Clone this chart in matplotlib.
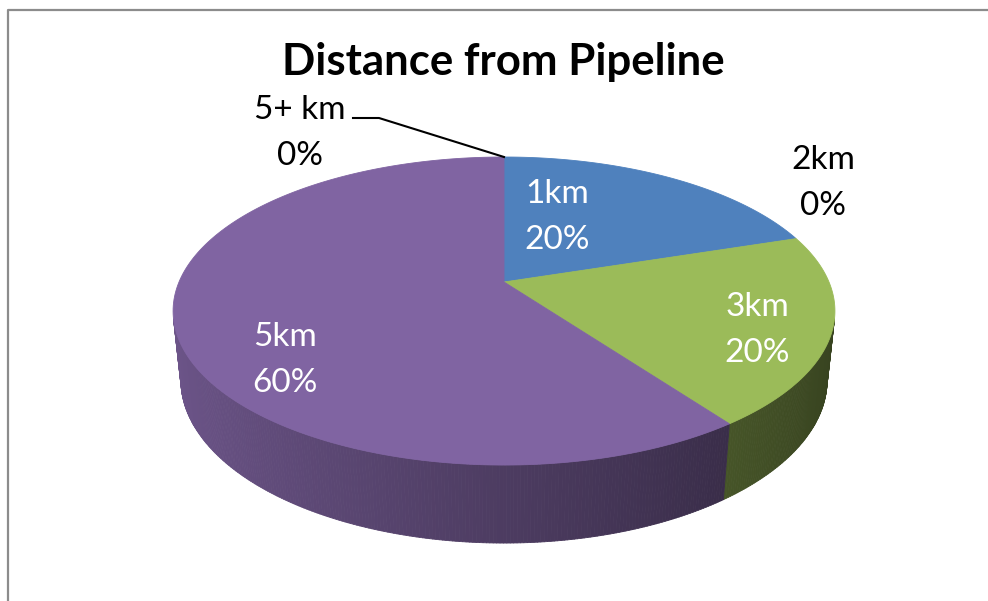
import numpy as np
import matplotlib.pyplot as plt
from matplotlib.collections import PolyCollection
from matplotlib.colors import to_rgb

# ---- data ----
labels = ["1km", "2km", "3km", "5km", "5+ km"]
values = [20, 0, 20, 60, 0]
colors = ["#4F81BD", "#C0504D", "#9BBB59", "#8064A2", "#4BACC6"]

# ---- layout (pixels, y down) ----
CX, CY = 504, 282          # where the slices meet on screen
TILT = np.radians(27.2)    # camera elevation
DIST = 4.72                # camera distance (in pie radii)
FOCAL = 1534
DEPTH = 0.24               # pie thickness (in pie radii)

# label anchors (centre of the two-line block), text colour
label_pos = {
    "1km": (557, 217, "white"),
    "2km": (823, 183, "black"),
    "3km": (757, 330, "white"),
    "5km": (285, 360, "white"),
    "5+ km": (300, 133, "black"),
}
LINE_GAP = 23


def project(x, y, z):
    c, s = np.cos(TILT), np.sin(TILT)
    d = DIST + y * c - z * s
    sx = CX + FOCAL * x / d
    sy = CY - FOCAL * (y * s + z * c) / d
    return sx, sy


def shade(col, th):
    # lighter on the left, darker on the right
    f = 0.6 - 0.25 * np.sin(th)
    return tuple(np.clip(np.array(to_rgb(col)) * f, 0, 1))


fig = plt.figure(figsize=(9.88, 6.01), dpi=100)
ax = fig.add_axes([0, 0, 1, 1])
ax.set_xlim(0, 988)
ax.set_ylim(601, 0)
ax.axis("off")

# chart frame
ax.plot([8, 8, 990], [603, 10, 10], color="#8c8c8c", lw=1.6, solid_capstyle="butt")

total = float(sum(values))
starts = np.cumsum([0] + values[:-1]) / total * 2 * np.pi
ends = np.cumsum(values) / total * 2 * np.pi

# ---- side walls ----
side_polys, side_cols = [], []
for v, a0, a1, col in zip(values, starts, ends, colors):
    if v == 0:
        continue
    ts = np.linspace(a0, a1, max(int(np.degrees(a1 - a0) * 2), 2))
    for t0, t1 in zip(ts[:-1], ts[1:]):
        tm = 0.5 * (t0 + t1)
        # visible if the outward normal faces the camera
        if -1 - DIST * np.cos(TILT) * np.cos(tm) <= 0:
            continue
        p = [project(np.sin(t0), np.cos(t0), 0),
             project(np.sin(t1), np.cos(t1), 0),
             project(np.sin(t1), np.cos(t1), -DEPTH),
             project(np.sin(t0), np.cos(t0), -DEPTH)]
        side_polys.append(p)
        side_cols.append(shade(col, tm))

ax.add_collection(PolyCollection(side_polys, facecolors=side_cols,
                                 edgecolors=side_cols, linewidths=0.6))

# ---- top faces ----
for v, a0, a1, col in zip(values, starts, ends, colors):
    if v == 0:
        continue
    ts = np.linspace(a0, a1, 200)
    xs, ys = project(np.sin(ts), np.cos(ts), 0 * ts)
    px = np.concatenate([[CX], xs])
    py = np.concatenate([[CY], ys])
    ax.fill(px, py, facecolor=col, edgecolor=col, lw=0.6)

# ---- labels ----
font = ["Lato", "DejaVu Sans"]
for lab, v in zip(labels, values):
    x, y, tc = label_pos[lab]
    pct = f"{v / total:.0%}"
    ax.text(x, y - LINE_GAP, lab, ha="center", va="center", color=tc,
            fontsize=24, family=font)
    ax.text(x, y + LINE_GAP, pct, ha="center", va="center", color=tc,
            fontsize=24, family=font)

# leader line for the 5+ km slice
a = ends[-1]
tx, ty = project(np.sin(a), np.cos(a), 0)
ax.plot([353, 379, tx], [118, 118, ty], color="black", lw=1.5)

ax.text(503, 62, "Distance from Pipeline", ha="center", va="center",
        fontsize=31.5, fontweight="bold", family=font)

fig.savefig("out.png", dpi=100)
